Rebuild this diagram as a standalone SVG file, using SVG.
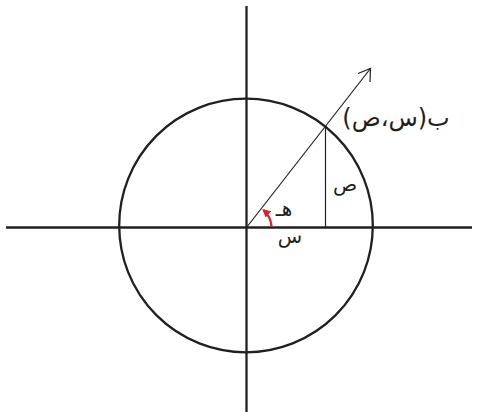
<svg xmlns="http://www.w3.org/2000/svg" width="479" height="412" viewBox="0 0 479 412">
<style>
.axis{stroke:#231f20;stroke-width:2.3;fill:none}
.circ{stroke:#231f20;stroke-width:2.3;fill:none}
.thin{stroke:#231f20;stroke-width:1.2;fill:none}
.lbl{font-family:"DejaVu Sans",sans-serif;font-size:20px;fill:#231f20;text-anchor:middle}
.big{font-size:24px}
</style>
<defs>
<marker id="redHead" viewBox="0 0 10 10" refX="8" refY="5" markerWidth="3.6" markerHeight="3.6" orient="auto" markerUnits="strokeWidth">
<path d="M0,0 L10,5 L0,10 Z" fill="#e31e24"/>
</marker>
</defs>
<g id="axes">
<line class="axis" x1="6" y1="227.5" x2="472" y2="227.5"/>
<line class="axis" x1="246.5" y1="6" x2="246.5" y2="412"/>
</g>
<g id="circle">
<circle class="circ" cx="246" cy="225.5" r="126.8"/>
</g>
<g id="connectors">
<line class="thin" x1="246.5" y1="227.5" x2="370.5" y2="68.5"/>
<polyline class="thin" points="358,73.5 370.5,68.5 370,82"/>
<line class="thin" x1="325.5" y1="127" x2="325.5" y2="227.5"/>
<path d="M271.5,226 A25,25 0 0 0 263.5,210" fill="none" stroke="#e31e24" stroke-width="2.3" marker-end="url(#redHead)"/>
</g>
<g id="label-b">
<text class="lbl big" x="396" y="126" direction="rtl">ب(س،ص)</text>
</g>
<g id="label-y">
<text class="lbl" x="345" y="191" direction="rtl">ص</text>
</g>
<g id="label-h">
<text class="lbl" x="284" y="216" direction="rtl">هـ</text>
</g>
<g id="label-x">
<text class="lbl" x="290" y="243" direction="rtl">س</text>
</g>
</svg>
